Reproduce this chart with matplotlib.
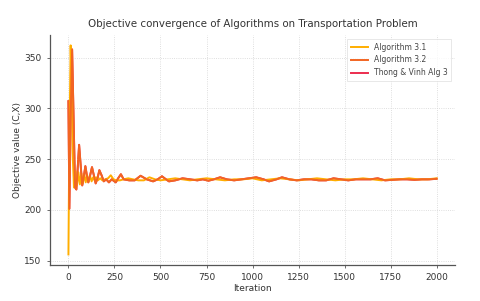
import numpy as np
import matplotlib
matplotlib.use("Agg")
from matplotlib import pyplot as plt

# values (iteration, objective value)
ITER_31 = [0, 4, 12, 18, 24, 30, 38, 46, 54, 62, 70, 78, 86, 94, 102, 110, 118, 126, 134,
           142, 150, 160, 172, 185, 200, 215, 230, 245, 260, 280, 300, 325, 350, 380, 410,
           440, 470, 500, 540, 580, 620, 660, 700, 750, 800, 850, 900, 950, 1000, 1050,
           1100, 1150, 1200, 1250, 1300, 1350, 1400, 1450, 1500, 1550, 1600, 1650, 1700,
           1750, 1800, 1850, 1900, 1950, 2000]
VAL_31 = [156, 250, 362, 320, 250, 222, 238, 224, 237, 225, 236, 226, 235, 227, 234, 228,
          233, 228, 232, 229, 232, 229, 231, 229, 230, 231, 234, 230, 229, 229, 230, 231,
          230, 229, 229, 232, 230, 229, 230, 231, 230, 229, 230, 231, 230, 229, 230, 230,
          231, 229, 230, 231, 230, 229, 230, 231, 230, 229, 230, 230, 231, 230, 229, 230,
          230, 231, 230, 230, 231]

ITER_32 = [0, 5, 12, 20, 28, 36, 43, 50, 58, 66, 75, 83, 92, 100, 108, 118, 128, 138, 148,
           158, 168, 180, 192, 205, 220, 235, 257, 270, 285, 300, 330, 360, 392, 425, 460,
           485, 508, 530, 546, 580, 620, 660, 700, 730, 760, 790, 824, 860, 900, 940, 980,
           1020, 1060, 1090, 1130, 1160, 1200, 1240, 1280, 1320, 1360, 1400, 1440, 1480,
           1520, 1560, 1600, 1640, 1680, 1720, 1760, 1800, 1840, 1880, 1920, 1960, 2000]
VAL_32 = [307, 201, 290, 358, 290, 222, 220, 240, 264, 245, 224, 232, 243, 234, 227, 234,
          242, 234, 226, 231, 239, 234, 228, 230, 227, 230, 227, 231, 235, 230, 229, 229,
          233.5, 230, 228, 230, 233, 230, 228, 229, 231, 230, 229, 230, 228.6, 230, 232,
          230, 229, 230, 231, 232, 230, 228, 230, 232, 230, 229, 230, 230, 229, 229, 231,
          230, 229, 230, 230, 230, 231, 229, 229.5, 230, 230, 229.5, 230, 230, 230.5]

# Thong & Vinh Alg 3 lies under the other curves in the picture
ITER_TV = ITER_32
VAL_TV = VAL_32

SERIES = ["Algorithm 3.1", "Algorithm 3.2", "Thong & Vinh Alg 3"]
COLORS = ["#FFAE00", "#F26522", "#EC2D4F"]

plt.rcParams["font.family"] = "DejaVu Sans"
fig, ax = plt.subplots(figsize=(4.81, 3.01), dpi=100)
fig.subplots_adjust(left=0.104, right=0.946, top=0.884, bottom=0.120)

ax.plot(ITER_TV, VAL_TV, color=COLORS[2], lw=1.4, label=SERIES[2], zorder=1)
ax.plot(ITER_31, VAL_31, color=COLORS[0], lw=1.4, label=SERIES[0], zorder=2)
ax.plot(ITER_32, VAL_32, color=COLORS[1], lw=1.4, label=SERIES[1], zorder=3)

handles, labels = ax.get_legend_handles_labels()
order = [labels.index(s) for s in SERIES]
leg = ax.legend([handles[i] for i in order], [labels[i] for i in order],
                loc="upper right", fontsize=5.5, frameon=True, fancybox=False,
                borderpad=0.5, handlelength=2.2)
leg.get_frame().set_edgecolor("#dddddd")
leg.get_frame().set_linewidth(0.6)
for t in leg.get_texts():
    t.set_color("#444444")

ax.set_title("Objective convergence of Algorithms on Transportation Problem",
             fontsize=7.4, color="#333333")
ax.set_xlabel("Iteration", fontsize=6.5, color="#333333", labelpad=1)
ax.set_ylabel("Objective value (C,X)", fontsize=6.5, color="#333333", labelpad=2)
ax.set_xticks([0, 250, 500, 750, 1000, 1250, 1500, 1750, 2000])
ax.set_yticks([150, 200, 250, 300, 350])
ax.tick_params(labelsize=6.5, colors="#555555", labelcolor="#333333", length=2.5, width=0.6)
ax.grid(True, linestyle=":", color="#d4d4d4", linewidth=0.6)
for s in ["top", "right"]:
    ax.spines[s].set_visible(False)
for s in ["left", "bottom"]:
    ax.spines[s].set_color("#555555")
    ax.spines[s].set_linewidth(0.9)

plt.savefig("out.png", dpi=100)
